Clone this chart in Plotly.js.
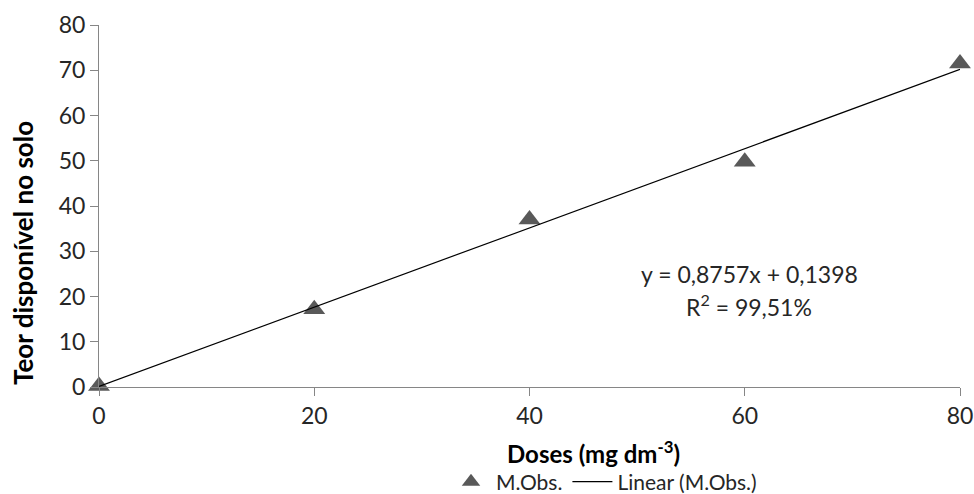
<!DOCTYPE html>
<html>
<head>
<meta charset="utf-8">
<script src="https://cdn.plot.ly/plotly-3.0.1.min.js"></script>
<style>html,body{margin:0;padding:0;background:#fff;}#chart{width:974px;height:494px;}</style>
</head>
<body>
<div id="chart"></div>
<script>
// Data
const doses = [0, 20, 40, 60, 80];
const teor = [0.2, 17.2, 37.0, 49.8, 71.5];
// Linear trend line reported on the chart
const trendCoef = [0.8757, 0.1398]; // slope, intercept
const trendX = [0, 80];
const xTicks = [0, 20, 40, 60, 80];
const yTicks = [0, 10, 20, 30, 40, 50, 60, 70, 80];

const trendY = trendX.map(x => trendCoef[0] * x + trendCoef[1]);
const fontFam = 'Lato, "Open Sans", sans-serif';

const traces = [
  {
    x: doses, y: teor, type: 'scatter', mode: 'markers', name: 'M.Obs.',
    marker: {symbol: 'triangle-up', size: 19, color: '#595959'},
    cliponaxis: false
  },
  {
    x: trendX, y: trendY, type: 'scatter', mode: 'lines', name: 'Linear (M.Obs.)',
    line: {color: '#000000', width: 1.2},
    cliponaxis: false
  }
];

const layout = {
  width: 974, height: 494,
  margin: {l: 99, r: 14, t: 25, b: 107},
  paper_bgcolor: '#fff', plot_bgcolor: '#fff',
  font: {family: fontFam, color: '#262626', size: 23},
  showlegend: true,
  legend: {orientation: 'h', xref: 'container', yref: 'container',
           x: 604 / 974, xanchor: 'center', y: 12 / 494, yanchor: 'middle',
           font: {size: 21, color: '#262626'}, traceorder: 'normal', itemwidth: 40},
  xaxis: {
    range: [0, 80], tickvals: xTicks, ticktext: xTicks.map(String), automargin: false,
    showgrid: false, zeroline: false, showline: true, linecolor: '#868686', linewidth: 1,
    ticks: 'outside', ticklen: 8, tickcolor: '#868686',
    tickfont: {size: 23, color: '#262626'}
  },
  yaxis: {
    range: [0, 80], tickvals: yTicks, ticktext: yTicks.map(String), automargin: false,
    showgrid: false, zeroline: false, showline: true, linecolor: '#868686', linewidth: 1,
    ticks: 'outside', ticklen: 8, tickcolor: '#868686',
    tickfont: {size: 23, color: '#262626'}
  },
  annotations: [
    {xref: 'paper', yref: 'paper', x: (749 - 99) / 861, y: (387 - 274) / 362,
     text: 'y = 0,8757x + 0,1398', showarrow: false, font: {size: 23, color: '#262626'},
     xanchor: 'center', yanchor: 'middle'},
    {xref: 'paper', yref: 'paper', x: (749 - 99) / 861, y: (387 - 305) / 362,
     text: 'R<sup>2</sup> = 99,51%', showarrow: false, font: {size: 23, color: '#262626'},
     xanchor: 'center', yanchor: 'middle'},
    {xref: 'paper', yref: 'paper', x: (593 - 99) / 861, y: (387 - 452) / 362,
     text: '<b>Doses (mg dm<sup>-3</sup>)</b>', showarrow: false, font: {size: 24, color: '#000'},
     xanchor: 'center', yanchor: 'middle'},
    {xref: 'paper', yref: 'paper', x: (23 - 99) / 861, y: (387 - 253) / 362,
     text: '<b>Teor disponível no solo</b>', showarrow: false, textangle: -90,
     font: {size: 26, color: '#000'}, xanchor: 'center', yanchor: 'middle'}
  ]
};

Plotly.newPlot('chart', traces, layout, {displayModeBar: false, staticPlot: true});
</script>
</body>
</html>
